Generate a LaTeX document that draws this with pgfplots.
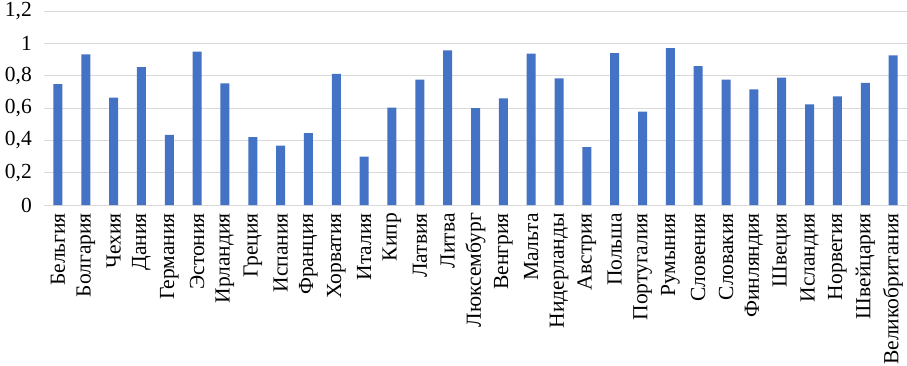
\documentclass[border=0pt]{standalone}
\usepackage{fontspec}
\setmainfont{Liberation Serif}
\usepackage{pgfplots}
\pgfplotsset{compat=1.18}
\definecolor{barblue}{HTML}{4472C4}
\definecolor{gridgray}{HTML}{D9D9D9}
\begin{document}
\begin{tikzpicture}
\begin{axis}[
  scale only axis,
  width=863pt, height=194pt,
  xmin=-0.5, xmax=30.5,
  ymin=0, ymax=1.2,
  ytick={0,0.2,0.4,0.6,0.8,1,1.2},
  yticklabels={0,{0,2},{0,4},{0,6},{0,8},1,{1,2}},
  xtick={0,...,30},
  xticklabels={Бельгия,Болгария,Чехия,Дания,Германия,Эстония,Ирландия,Греция,Испания,Франция,Хорватия,Италия,Кипр,Латвия,Литва,Люксембург,Венгрия,Мальта,Нидерланды,Австрия,Польша,Португалия,Румыния,Словения,Словакия,Финляндия,Швеция,Исландия,Норвегия,Швейцария,Великобритания},
  xticklabel style={rotate=90, anchor=east, font=\rmfamily\fontsize{21.5}{24}\selectfont, inner sep=0pt},
  yticklabel style={font=\rmfamily\fontsize{21.5}{24}\selectfont, inner sep=0pt},
  ymajorgrids,
  grid style={gridgray, line width=1pt},
  axis line style={draw=none},
  tick style={draw=none},
  major tick length=0pt,
  xticklabel shift=8pt,
  yticklabel shift=12pt,
  clip=false,
]
\addplot[ybar, bar width=9pt, fill=barblue, draw=none] coordinates {
(0,0.747) (1,0.931) (2,0.664) (3,0.853) (4,0.434) (5,0.949) (6,0.752) (7,0.420) (8,0.367) (9,0.444)
(10,0.811) (11,0.299) (12,0.603) (13,0.776) (14,0.957) (15,0.599) (16,0.660) (17,0.937) (18,0.784) (19,0.358)
(20,0.939) (21,0.578) (22,0.971) (23,0.859) (24,0.776) (25,0.715) (26,0.788) (27,0.623) (28,0.672) (29,0.756) (30,0.925)
};
\end{axis}
\pgfresetboundingbox
\path (-44pt,-160pt) rectangle (863pt,205pt);
\end{tikzpicture}
\end{document}
